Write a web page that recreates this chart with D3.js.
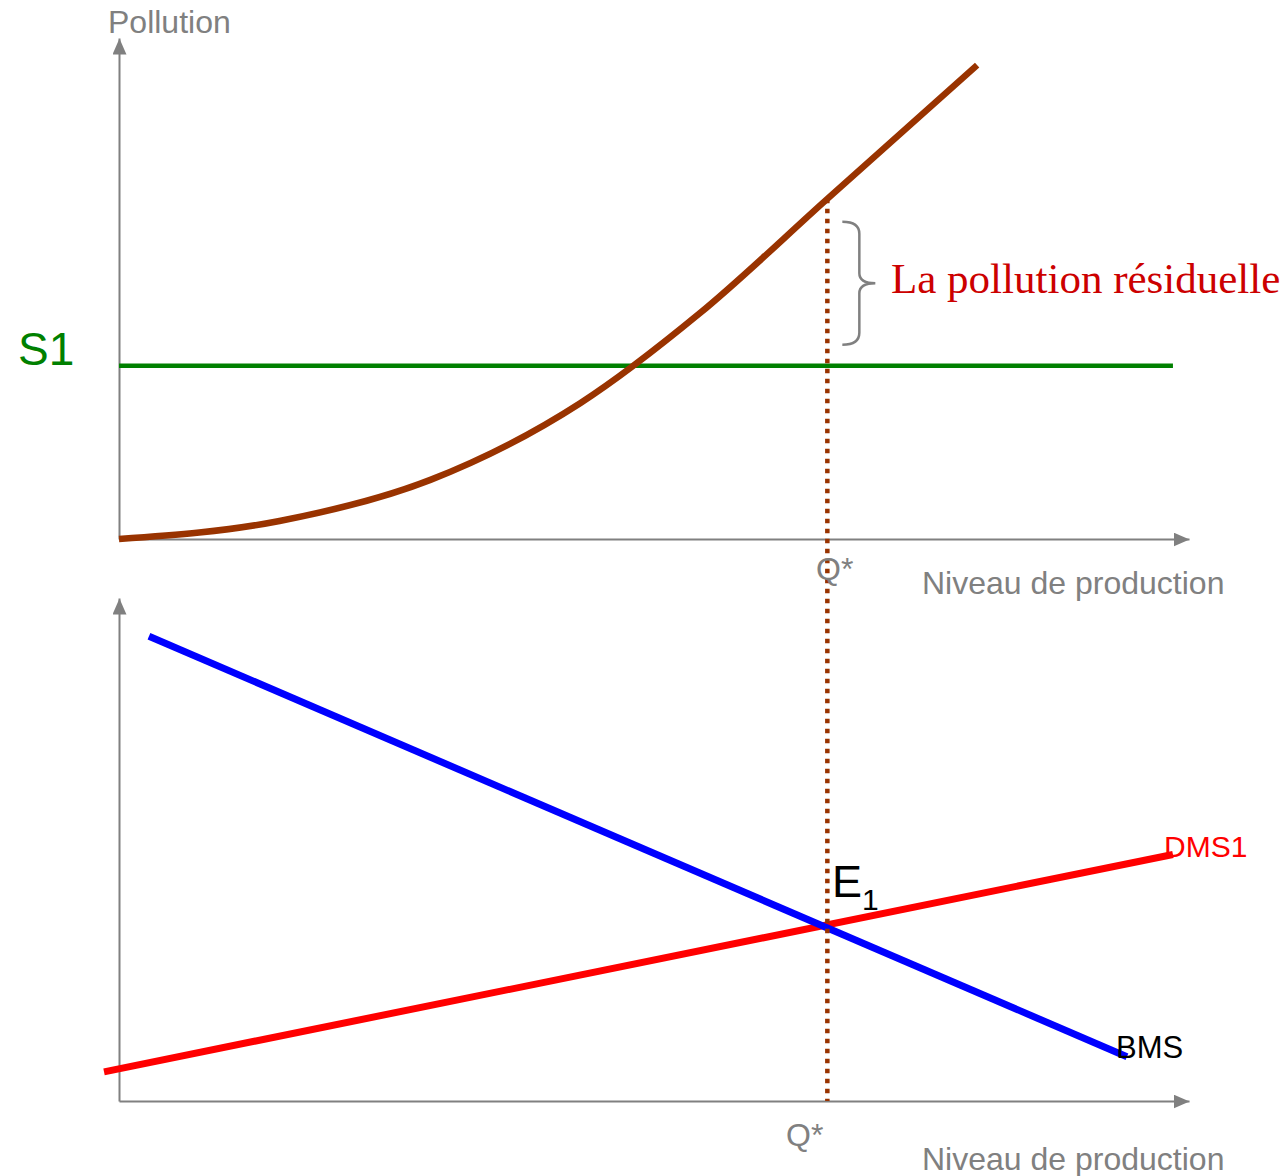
<!DOCTYPE html>
<html><head><meta charset="utf-8">
<script src="https://cdn.jsdelivr.net/npm/d3@7"></script>
<style>body{margin:0;background:#fff}svg{display:block}</style>
</head><body>
<svg id="c" width="1288" height="1176"></svg>
<script>
// ---- data ----
const pollutionX = [0, 15.0, 29.1, 43.1, 54.3, 66.2, 80.2];
const pollutionY = [0, 3.6, 11.8, 27.1, 45.1, 67.9, 94.6];
const s1Level = 34.6;
const s1X = [0, 98.5];
const qStar = 66.2;
const bmsX = [2.8, 94.2];
const bmsY = [92.4, 8.8];
const dmsX = [-1.4, 98.5];
const dmsY = [5.8, 49];

const svg = d3.select("#c");
const grey = "#808080", brown = "#993300";
const sans = "'Liberation Sans', Arial, sans-serif";

const x = d3.scaleLinear().domain([0, 100]).range([119, 1189]);
const yTop = d3.scaleLinear().domain([0, 100]).range([539, 38]);
const yBot = d3.scaleLinear().domain([0, 100]).range([1101, 598]);

// arrow marker
const defs = svg.append("defs");
defs.append("marker").attr("id", "arr").attr("viewBox", "0 0 16 14")
  .attr("refX", 16).attr("refY", 7).attr("markerWidth", 16).attr("markerHeight", 14)
  .attr("markerUnits", "userSpaceOnUse").attr("orient", "auto")
  .append("path").attr("d", "M0,0L16,7L0,14Z").attr("fill", grey);

function styleAxis(g) {
  g.select(".domain").attr("stroke", grey).attr("stroke-width", 2).attr("marker-end", "url(#arr)");
}
// axes
svg.append("g").attr("transform", `translate(0,${yTop(0)})`)
  .call(d3.axisBottom(x).tickValues([]).tickSizeOuter(0)).call(styleAxis);
svg.append("g").attr("transform", `translate(${x(0)},0)`)
  .call(d3.axisLeft(yTop).tickValues([]).tickSizeOuter(0)).call(styleAxis);
svg.append("g").attr("transform", `translate(0,${yBot(0)})`)
  .call(d3.axisBottom(x).tickValues([]).tickSizeOuter(0)).call(styleAxis);
svg.append("g").attr("transform", `translate(${x(0)},0)`)
  .call(d3.axisLeft(yBot).tickValues([]).tickSizeOuter(0)).call(styleAxis);

// S1
svg.append("line").attr("x1", x(s1X[0])).attr("x2", x(s1X[1]))
  .attr("y1", yTop(s1Level)).attr("y2", yTop(s1Level))
  .attr("stroke", "#008000").attr("stroke-width", 4.5);

// pollution curve
const pts = pollutionX.map((v, i) => [v, pollutionY[i]]);
svg.append("path").datum(pts)
  .attr("d", d3.line().x(d => x(d[0])).y(d => yTop(d[1])).curve(d3.curveMonotoneX))
  .attr("fill", "none").attr("stroke", brown).attr("stroke-width", 6.5);

// DMS1
svg.append("line").attr("x1", x(dmsX[0])).attr("y1", yBot(dmsY[0]))
  .attr("x2", x(dmsX[1])).attr("y2", yBot(dmsY[1]))
  .attr("stroke", "#ff0000").attr("stroke-width", 7);
// BMS
svg.append("line").attr("x1", x(bmsX[0])).attr("y1", yBot(bmsY[0]))
  .attr("x2", x(bmsX[1])).attr("y2", yBot(bmsY[1]))
  .attr("stroke", "#0000ff").attr("stroke-width", 7);

// dotted line Q*
const qCurve = pollutionY[pollutionX.indexOf(qStar)];
svg.append("line").attr("x1", x(qStar)).attr("x2", x(qStar))
  .attr("y1", yTop(qCurve)).attr("y2", yBot(0))
  .attr("stroke", brown).attr("stroke-width", 4.5).attr("stroke-dasharray", "4.5,5.5");

// brace
const bTop = yTop(qCurve) + 23, bBot = yTop(s1Level) - 21, bMid = (bTop + bBot) / 2;
const bx = x(qStar) + 15;
svg.append("path")
  .attr("d", `M${bx},${bTop} Q${bx + 17},${bTop} ${bx + 17},${bTop + 12} L${bx + 17},${bMid - 10} Q${bx + 17},${bMid} ${bx + 33},${bMid} Q${bx + 17},${bMid} ${bx + 17},${bMid + 10} L${bx + 17},${bBot - 12} Q${bx + 17},${bBot} ${bx},${bBot}`)
  .attr("fill", "none").attr("stroke", grey).attr("stroke-width", 2.5);

// texts
function txt(t, px, py, size, fill, family, anchor) {
  return svg.append("text").attr("x", px).attr("y", py).attr("font-size", size)
    .attr("fill", fill).attr("font-family", family || sans).attr("text-anchor", anchor || "start").text(t);
}
txt("Pollution", 108, 33, 32, grey);
txt("S1", 18, 365, 46, "#008000");
txt("La pollution résiduelle", 891, 293, 43, "#cc0000", "'Liberation Serif', 'Times New Roman', serif");
txt("Q*", 816, 580, 32, grey);
txt("Niveau de production", 922, 594, 32, grey);
txt("Q*", 786, 1146, 32, grey);
txt("Niveau de production", 922, 1170, 32, grey);
txt("DMS1", 1164, 857, 30, "#ff0000");
txt("BMS", 1116, 1058, 31, "#000");
const e = svg.append("text").attr("x", 832).attr("y", 897).attr("font-family", sans).attr("fill", "#000");
e.append("tspan").attr("font-size", 45).text("E");
e.append("tspan").attr("font-size", 30).attr("dy", 13).text("1");
</script>
</body></html>
